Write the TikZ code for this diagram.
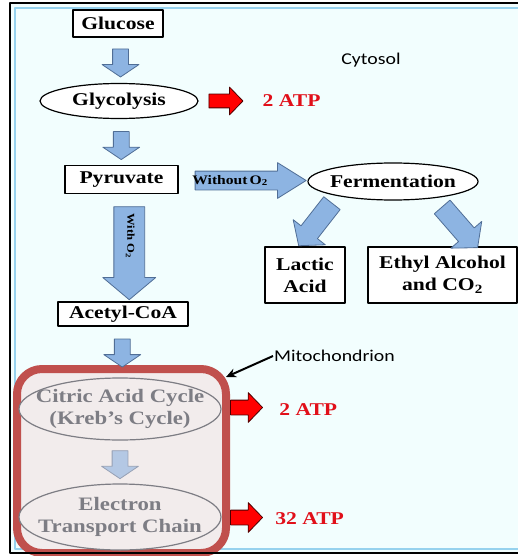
\documentclass[tikz,border=0pt]{standalone}
\usepackage{fontspec}
\setmainfont{Liberation Serif}[FakeStretch=1.2]
\newfontfamily\labelfont{Carlito}[FakeStretch=1.2]
\usetikzlibrary{shapes.geometric,shapes.arrows,calc,arrows.meta}

\definecolor{bgcyan}{RGB}{242,254,254}
\definecolor{frameblue}{RGB}{150,210,238}
\definecolor{arrowblue}{RGB}{141,180,226}
\definecolor{arrowedge}{RGB}{80,110,150}
\definecolor{fadedblue}{RGB}{180,200,228}
\definecolor{fadededge}{RGB}{150,160,180}
\definecolor{atpred}{RGB}{225,15,25}
\definecolor{mitored}{RGB}{192,80,77}
\definecolor{mitofill}{RGB}{242,236,236}
\definecolor{mitotext}{RGB}{125,125,132}

\tikzset{
  boxfont/.style={font=\bfseries\fontsize{18}{22}\selectfont},
  stepbox/.style={draw, line width=1.5pt, fill=white, inner sep=0pt, align=center, boxfont},
  stepoval/.style={ellipse, draw, line width=1.2pt, fill=white, inner sep=0pt},
  ovaltext/.style={boxfont, align=center, inner sep=0pt},
  mitobox/.style={draw=mitored, line width=8pt, fill=mitofill, rounded corners=25pt},
  mitooval/.style={ellipse, draw=mitotext, line width=1.2pt, fill=mitofill, inner sep=0pt},
  mitoovaltext/.style={text=mitotext, align=center, inner sep=0pt, font=\bfseries\fontsize{19}{21.5}\selectfont},
  bluearrow/.style={single arrow, draw=arrowedge, fill=arrowblue, line width=0.8pt, inner xsep=0pt},
  downarrow/.style={bluearrow, rotate=-90, minimum height=28, minimum width=36, inner ysep=7.5, single arrow head extend=10.5, single arrow tip angle=112},
  redarrow/.style={single arrow, draw=black!70!red, fill=red, line width=0.8pt, inner xsep=0pt, inner ysep=6.5, minimum height=34, minimum width=27, single arrow head extend=7, single arrow tip angle=92},
  atptext/.style={text=atpred, inner sep=0pt, anchor=west, boxfont},
  sidelabel/.style={font=\labelfont\fontsize{16.5}{18}\selectfont}
}

\begin{document}
\begin{tikzpicture}[x=1pt,y=-1pt,line join=round]
\useasboundingbox (0,0) rectangle (518,556);
% frame
\fill[bgcyan] (10,3) rectangle (530,553);
\draw[frameblue,line width=1.2pt] (15,8) rectangle (530,549);

% glycolysis
\node[stepbox, minimum width=90, minimum height=27] (glucose) at (118,23.5) {Glucose};
\node[stepoval, minimum width=158, minimum height=35, label={[ovaltext]center:Glycolysis}] (glycolysis) at (119,101) {};
\node[stepbox, minimum width=113, minimum height=28] (pyruvate) at (121.5,179.5) {Pyruvate};
\node[downarrow] (glutogly) at ($(glucose.south)!0.5!(glycolysis.north)+(2,0)$) {};
\node[downarrow] (glytopyr) at ($(glycolysis.south)!0.5!(pyruvate.north)+(1,1)$) {};
\node[redarrow] (glyatp) at ($(glycolysis.east)+(24,0)$) {};
\node[atptext] (glyatpnum) at ($(glyatp.tip)+(19,0)$) {2 ATP};
\node[sidelabel, inner sep=0pt] (cytosol) at (371,60) {Cytosol};

% fermentation
\node[stepoval, minimum width=170, minimum height=37, label={[ovaltext]center:Fermentation}] (ferment) at (393,181.5) {};
\node[stepbox, minimum width=80, minimum height=56] (lactic) at (305,275) {Lactic\\Acid};
\node[stepbox, minimum width=149, minimum height=56] (ethyl) at (442.5,275) {Ethyl Alcohol\\and CO\textsubscript{2}};
\node[bluearrow, minimum height=111, minimum width=35, inner ysep=9, single arrow head extend=8.5, single arrow tip angle=64] (without) at ($(pyruvate.east)!0.5!(ferment.west)+(0,0)$) {};
\node[font=\bfseries\fontsize{13}{14}\selectfont, inner sep=0pt] (withoutlabel) at ($(without.center)+(-13,0)$) {Without\,O\textsubscript{2}};
\node[bluearrow, rotate=-128, minimum height=54, minimum width=40, inner ysep=10, single arrow head extend=10, single arrow tip angle=100] (tolactic) at (318,221) {};
\node[bluearrow, rotate=-49, minimum height=54, minimum width=40, inner ysep=10, single arrow head extend=10, single arrow tip angle=100] (toethyl) at (457,224) {};

% aerobic
\node[stepbox, minimum width=130, minimum height=24] (acetyl) at (123,314) {Acetyl-CoA};
\node[bluearrow, rotate=-90, minimum height=93, minimum width=52, inner ysep=15, single arrow head extend=11, single arrow tip angle=100] (with) at ($(pyruvate.south)!0.5!(acetyl.north)+(7,-1)$) {};
\node[rotate=-90, font=\bfseries\fontsize{10.5}{12}\selectfont, inner sep=0pt] (withlabel) at ($(with.center)+(1,-11)$) {With O\textsubscript{2}};

% mitochondrion
\node[mitobox, minimum width=209, minimum height=184] (mito) at (121.5,461) {};
\node[downarrow] (acetomito) at ($(acetyl.south)!0.5!(mito.north)+(0,4.5)$) {};
\node[mitooval, minimum width=202, minimum height=62, label={[mitoovaltext]center:Citric Acid Cycle\\(Kreb’s Cycle)}] (citric) at (120,409) {};
\node[mitooval, minimum width=202, minimum height=66, label={[mitoovaltext]center:Electron\\Transport Chain}] (etc) at (120,517) {};
\node[downarrow, draw=fadededge, fill=fadedblue] (citetc) at ($(citric.south)!0.5!(etc.north)$) {};
\node[redarrow, minimum height=32, minimum width=29, inner ysep=7, single arrow head extend=7.5] (citatp) at (243,407.5) {};
\node[atptext] (citatpnum) at ($(citatp.tip)+(16,2)$) {2 ATP};
\node[redarrow, minimum height=32, minimum width=29, inner ysep=7, single arrow head extend=7.5] (etcatp) at (243,517.5) {};
\node[atptext] (etcatpnum) at ($(etcatp.tip)+(12,1)$) {32 ATP};
\node[sidelabel, inner sep=1pt, anchor=west] (mitolabel) at (273,356) {Mitochondrion};
\coordinate (mitotip) at (226,377);
\draw[line width=2pt, -{Stealth[length=10pt,width=9pt]}] (mitolabel.west) -- (mitotip);

\draw[black,line width=2pt] (10,3) rectangle (530,553);
\end{tikzpicture}
\end{document}
